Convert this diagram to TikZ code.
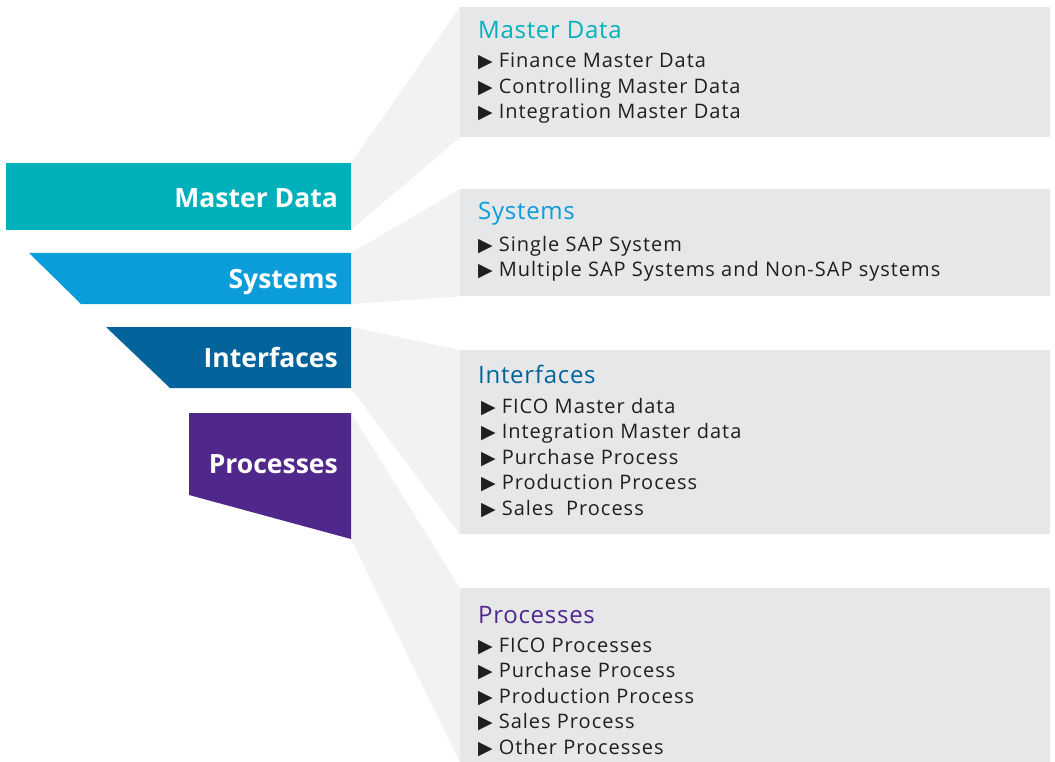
\documentclass[tikz,border=0pt]{standalone}
\usepackage{fontspec}
\setmainfont{Open Sans}
\newfontfamily\itemfont{Open Sans}[LetterSpace=5.0]
\newfontfamily\titlefont{Open Sans}[LetterSpace=3.0]
\newfontfamily\symfont{DejaVu Sans}
\usetikzlibrary{positioning}

\definecolor{mdcol}{HTML}{00B1BB}
\definecolor{syscol}{HTML}{0B9CDA}
\definecolor{ifcol}{HTML}{02649B}
\definecolor{prcol}{HTML}{50278A}
\definecolor{boxgrey}{HTML}{E6E7E9}
\definecolor{linkgrey}{HTML}{F2F2F2}

\tikzset{
  tablabel/.style={font=\fontsize{26.5}{26.5}\selectfont\bfseries, text=white, anchor=base east, inner sep=0pt},
  infobox/.style={fill=boxgrey, anchor=north west, inner sep=0pt, minimum width=590pt},
  boxtitle/.style={font=\titlefont\fontsize{24}{24}\selectfont, anchor=base west, inner sep=0pt},
  boxitem/.style={font=\itemfont\fontsize{20}{20}\selectfont, text=black!88, anchor=base west, inner sep=0pt},
  link/.style={fill=linkgrey},
}
\newcommand{\bul}{{\symfont\fontsize{19}{19}\selectfont ▶}\hspace{6pt}}

\begin{document}
\begin{tikzpicture}[x=1pt, y=-1pt]
        \useasboundingbox (0, 0) rectangle (1055, 762);
        % corners of the coloured tabs
        \coordinate (mdtab-ne) at (351, 163);
        \coordinate (mdtab-se) at (351, 230);
        \coordinate (systab-ne) at (351, 253);
        \coordinate (systab-se) at (351, 304);
        \coordinate (iftab-ne) at (351, 327);
        \coordinate (iftab-se) at (351, 388);
        \coordinate (prtab-ne) at (351, 413);
        \coordinate (prtab-se) at (351, 539);
        % grey boxes
        \node[infobox, minimum height=130pt] (mdbox) at (460, 7) {};
        \node[infobox, minimum height=107pt] (sysbox) at (460, 189) {};
        \node[infobox, minimum height=184pt] (ifbox) at (460, 350) {};
        \node[infobox, minimum height=174pt] (prbox) at (460, 588) {};
        % links
        \fill[link] (mdtab-ne) -- (mdbox.north west) -- (mdbox.south west) -- (mdtab-se) -- cycle;
        \fill[link] (systab-ne) -- (sysbox.north west) -- (sysbox.south west) -- (systab-se) -- cycle;
        \fill[link] (iftab-ne) -- (ifbox.north west) -- (ifbox.south west) -- (iftab-se) -- cycle;
        \fill[link] (prtab-ne) -- (prbox.north west) -- (prbox.south west) -- (prtab-se) -- cycle;
        % tabs
        \fill[mdcol] (6, 163) rectangle (mdtab-se);
        \fill[syscol] (29, 253) -- (systab-ne) -- (systab-se) -- (81, 304) -- cycle;
        \fill[ifcol] (106, 327) -- (iftab-ne) -- (iftab-se) -- (170, 388) -- cycle;
        \fill[prcol] (189, 413) -- (prtab-ne) -- (prtab-se) -- (189, 495) -- cycle;
        \node[tablabel] (mdlabel) at (338, 208) {Master Data};
        \node[tablabel] (syslabel) at (338, 288) {Systems};
        \node[tablabel] (iflabel) at (338, 367) {Interfaces};
        \node[tablabel] (prlabel) at (338, 473) {Processes};
        % box contents
        \node[boxtitle, text=mdcol] (mdtitle) at (478, 39) {Master Data};
        \foreach \txt [count=\i] in {Finance Master Data, Controlling Master Data, Integration Master Data}
            \node[boxitem] (mditem-\i) at (478, 42.5+25.5*\i) {\bul\txt};
        \node[boxtitle, text=syscol] (systitle) at (478, 220) {Systems};
        \foreach \txt [count=\i] in {Single SAP System, Multiple SAP Systems and Non-SAP systems}
            \node[boxitem] (sysitem-\i) at (478, 226+25.3*\i) {\bul\txt};
        \node[boxtitle, text=ifcol] (iftitle) at (478, 383) {Interfaces};
        \foreach \txt [count=\i] in {FICO Master data, Integration Master data, Purchase Process, Production Process, Sales\ \ Process}
            \node[boxitem] (ifitem-\i) at (481, 387.5+25.5*\i) {\bul\txt};
        \node[boxtitle, text=prcol] (prtitle) at (478, 623) {Processes};
        \foreach \txt [count=\i] in {FICO Processes, Purchase Process, Production Process, Sales Process, Other Processes}
            \node[boxitem] (pritem-\i) at (478, 626.5+25.5*\i) {\bul\txt};
    \end{tikzpicture}
\end{document}
